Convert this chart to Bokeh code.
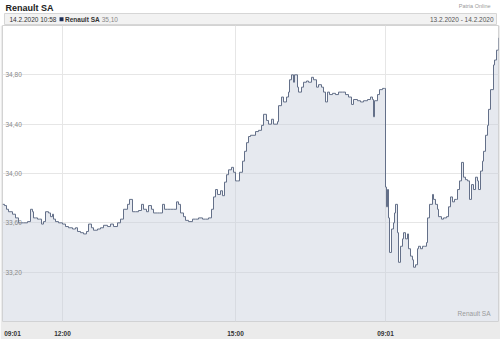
from bokeh.plotting import figure
from bokeh.layouts import column
from bokeh.models import Range1d, FixedTicker, ColumnDataSource
from bokeh.core.properties import value
from bokeh.embed import file_html
from bokeh.resources import INLINE

FONT = "Liberation Sans"

# ---- data (trade sequence position, price in EUR) ----
day1_tick = [0, 2, 4, 6, 10, 13, 16, 18, 21, 25, 28, 30, 31, 33, 35, 37, 39, 41, 43, 46,
             48, 50, 51, 53, 56, 60, 63, 66, 70, 73, 75, 78, 81, 84, 86, 89, 91, 95, 98, 101,
             105, 108, 111, 115, 118, 121, 125, 127, 130, 133, 136, 139, 141, 144, 146, 149,
             151, 155, 157, 160, 162, 165, 168, 171, 174, 176, 178, 181, 183, 186, 190, 193,
             196, 200, 203, 206, 209, 211, 213, 215, 218, 220, 222, 224, 226, 229, 231, 233,
             235, 237, 240, 242, 244, 246, 248, 253, 256, 259, 261, 264, 266, 269, 271, 275,
             276, 279, 281, 284, 286, 287, 289, 291, 292, 295, 296, 299, 301, 304, 306, 309,
             311, 314, 316, 319, 321, 323, 325, 327, 330, 333, 336, 340, 343, 346, 349, 351,
             355, 358, 361, 365, 368, 370, 371, 372, 375, 377, 380, 382]
day1_price = [33.75, 33.74, 33.71, 33.69, 33.67, 33.64, 33.60, 33.60, 33.60, 33.61, 33.71, 33.69,
              33.64, 33.64, 33.63, 33.63, 33.59, 33.61, 33.69, 33.68, 33.65, 33.67, 33.63, 33.61,
              33.60, 33.59, 33.57, 33.56, 33.55, 33.56, 33.53, 33.52, 33.51, 33.53, 33.59, 33.56,
              33.54, 33.55, 33.56, 33.58, 33.57, 33.59, 33.57, 33.60, 33.63, 33.71, 33.75, 33.79,
              33.69, 33.69, 33.70, 33.75, 33.71, 33.69, 33.74, 33.71, 33.68, 33.68, 33.68, 33.75,
              33.71, 33.71, 33.71, 33.71, 33.77, 33.75, 33.68, 33.65, 33.62, 33.61, 33.63, 33.63,
              33.64, 33.63, 33.63, 33.64, 33.71, 33.81, 33.87, 33.83, 33.86, 33.82, 33.93, 33.99,
              34.03, 34.05, 34.01, 33.94, 33.94, 34.01, 34.10, 34.18, 34.25, 34.30, 34.31, 34.34,
              34.35, 34.39, 34.48, 34.43, 34.40, 34.44, 34.40, 34.42, 34.55, 34.62, 34.58, 34.62,
              34.66, 34.76, 34.80, 34.74, 34.80, 34.70, 34.66, 34.70, 34.74, 34.75, 34.74, 34.78,
              34.76, 34.70, 34.72, 34.70, 34.66, 34.58, 34.66, 34.64, 34.65, 34.64, 34.66, 34.66,
              34.64, 34.62, 34.56, 34.60, 34.59, 34.58, 34.59, 34.60, 34.62, 34.60, 34.46, 34.59,
              34.64, 34.68, 34.69, 34.69]
day2_tick = [383, 384, 385, 386, 387, 389, 391, 392, 393, 395, 396, 398, 400, 401, 403, 405, 406,
             408, 410, 411, 413, 415, 416, 418, 420, 422, 424, 425, 427, 430, 431, 433, 435, 436,
             439, 441, 444, 446, 448, 450, 452, 454, 455, 457, 459, 461, 463, 465, 467, 469, 471,
             473, 475, 476, 478, 480, 481, 483, 485, 486, 488, 491, 492, 494, 496]
day2_price = [33.89, 33.73, 33.87, 33.64, 33.36, 33.55, 33.60, 33.68, 33.75, 33.52, 33.28, 33.41,
              33.47, 33.52, 33.47, 33.51, 33.39, 33.33, 33.30, 33.24, 33.26, 33.39, 33.41, 33.39,
              33.41, 33.41, 33.44, 33.64, 33.75, 33.83, 33.79, 33.75, 33.71, 33.65, 33.63, 33.64,
              33.65, 33.73, 33.81, 33.77, 33.79, 33.79, 33.87, 33.94, 34.09, 33.97, 33.95, 33.94,
              33.79, 33.91, 33.87, 33.97, 33.94, 33.87, 34.02, 34.10, 34.18, 34.31, 34.39, 34.52,
              34.68, 34.88, 34.92, 35.00, 35.10]

y_ticks = [33.20, 33.60, 34.00, 34.40, 34.80]
y_tick_labels = ["33,20", "33,60", "34,00", "34,40", "34,80"]
x_tick_pos = [10, 60, 233, 383]
x_tick_labels = ["09:01", "12:00", "15:00", "09:01"]
x_grid_pos = [60, 233, 383]
y_lo, y_hi = 32.8, 35.2
x_lo, x_hi = 0, 496

src = ColumnDataSource(dict(tick=day1_tick + day2_tick, price=day1_price + day2_price))

# ---- header strip ----
h = figure(width=500, height=25, x_range=Range1d(0, 500), y_range=Range1d(25, 0),
           toolbar_location=None, output_backend="svg", title=None,
           x_axis_location=None, y_axis_location=None,
           min_border_left=0, min_border_right=0, min_border_top=0, min_border_bottom=0)
h.grid.visible = False
h.outline_line_color = None
h.background_fill_color = "white"
h.border_fill_color = "white"
h.quad(left=2, right=498, top=13, bottom=24, fill_color="#f2f2f2", line_color="#d6d6d6")
h.text(x=[3], y=[7.5], text=["Renault SA"], text_font=value(FONT), text_font_size="9px",
       text_font_style="bold", text_baseline="middle", text_color="#222222")
h.text(x=[492], y=[5], text=["Patria Online"], text_font=value(FONT), text_font_size="5.5px",
       text_align="right", text_baseline="middle", text_color="#999999")
h.text(x=[7], y=[18.7], text=["14.2.2020 10:58"], text_font=value(FONT), text_font_size="6.5px",
       text_baseline="middle", text_color="#333333")
h.rect(x=[59.5], y=[18.7], width=4, height=4, fill_color="#1b2d57", line_color=None)
h.text(x=[63], y=[18.7], text=["Renault SA"], text_font=value(FONT), text_font_size="6.5px",
       text_font_style="bold", text_baseline="middle", text_color="#333333")
h.text(x=[100], y=[18.7], text=["35,10"], text_font=value(FONT), text_font_size="6.5px",
       text_baseline="middle", text_color="#888888")
h.text(x=[495], y=[18.7], text=["13.2.2020 - 14.2.2020"], text_font=value(FONT),
       text_font_size="6.5px", text_align="right", text_baseline="middle", text_color="#555555")

# ---- main chart ----
p = figure(width=500, height=314, x_range=Range1d(x_lo, x_hi), y_range=Range1d(y_lo, y_hi),
           toolbar_location=None, output_backend="svg", title=None, y_axis_location=None,
           min_border_left=2, min_border_right=2, min_border_top=0, min_border_bottom=12)
p.background_fill_color = "white"
p.border_fill_color = "#ebebeb"
p.outline_line_color = "#d3d3d3"

p.xaxis.ticker = FixedTicker(ticks=x_tick_pos)
p.xaxis.major_label_overrides = {t: l for t, l in zip(x_tick_pos, x_tick_labels)}
p.xaxis.axis_line_color = None
p.xaxis.major_tick_line_color = None
p.xaxis.minor_tick_line_color = None
p.xaxis.major_label_standoff = 2
p.xaxis.major_label_text_font = FONT
p.xaxis.major_label_text_font_size = "6.5px"
p.xaxis.major_label_text_font_style = "bold"
p.xaxis.major_label_text_color = "#333333"

p.xgrid.ticker = FixedTicker(ticks=x_grid_pos)
p.ygrid.ticker = FixedTicker(ticks=y_ticks)
p.xgrid.grid_line_color = "#e6e6e6"
p.ygrid.grid_line_color = "#e6e6e6"

p.varea_step(x="tick", y1=y_lo, y2="price", step_mode="after", source=src,
             fill_color="#c8cfdc", fill_alpha=0.45)
p.step(x="tick", y="price", mode="after", source=src, line_color="#647089", line_width=1)

p.text(x=[x_lo] * len(y_ticks), y=y_ticks, text=y_tick_labels, x_offset=3,
       text_font=value(FONT), text_font_size="6.5px", text_baseline="middle",
       text_color="#8a8a8a")
p.text(x=[x_hi], y=[y_lo], text=["Renault SA"], x_offset=-8, y_offset=-8,
       text_font=value(FONT), text_font_size="6.5px", text_align="right",
       text_baseline="middle", text_color="#9a9a9a")

layout = column(h, p, spacing=0)
open("out.html", "w").write(file_html(layout, INLINE))
